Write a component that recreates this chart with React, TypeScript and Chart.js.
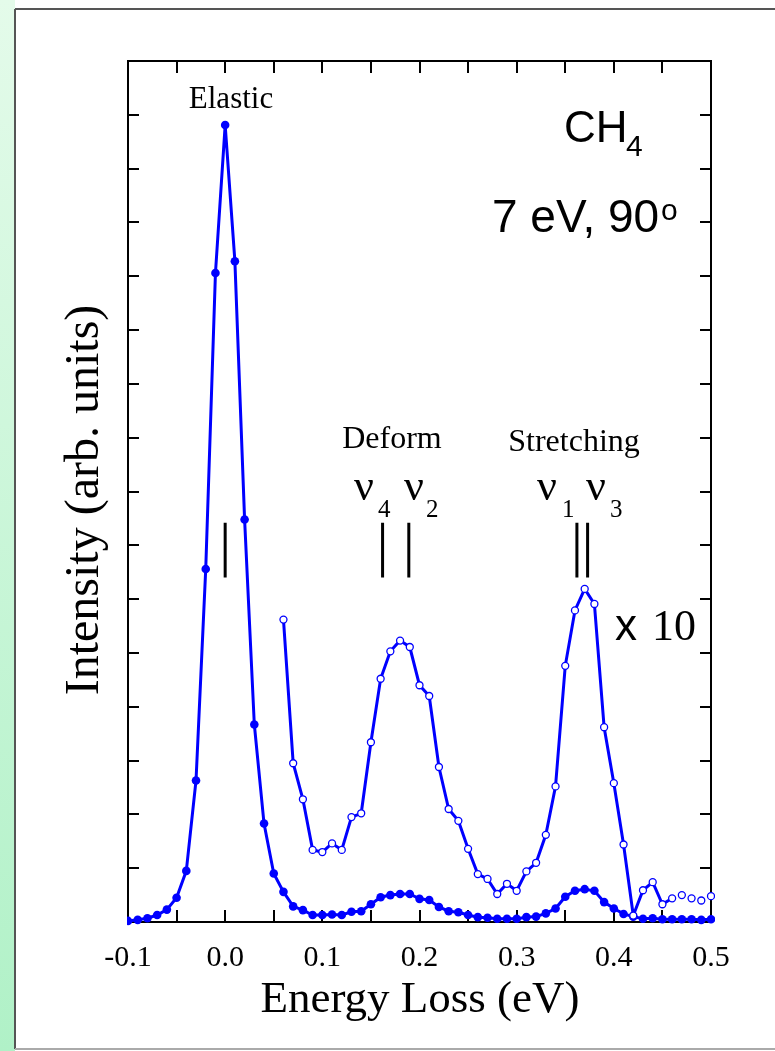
import React, { useEffect, useRef } from "react";
import { Chart, registerables } from "chart.js";

Chart.register(...registerables);

// Energy loss (eV) for the full-scale (filled) spectrum
const energyFull = [
  -0.10, -0.09, -0.08, -0.07, -0.06, -0.05, -0.04, -0.03, -0.02, -0.01,
  0.00, 0.01, 0.02, 0.03, 0.04, 0.05, 0.06, 0.07, 0.08, 0.09,
  0.10, 0.11, 0.12, 0.13, 0.14, 0.15, 0.16, 0.17, 0.18, 0.19,
  0.20, 0.21, 0.22, 0.23, 0.24, 0.25, 0.26, 0.27, 0.28, 0.29,
  0.30, 0.31, 0.32, 0.33, 0.34, 0.35, 0.36, 0.37, 0.38, 0.39,
  0.40, 0.41, 0.42, 0.43, 0.44, 0.45, 0.46, 0.47, 0.48, 0.49, 0.50,
];
const intensityFull = [
  0.02, 0.04, 0.07, 0.13, 0.23, 0.45, 0.95, 2.63, 6.56, 12.06,
  14.81, 12.28, 7.48, 3.67, 1.83, 0.90, 0.56, 0.29, 0.22, 0.13,
  0.13, 0.14, 0.13, 0.19, 0.20, 0.33, 0.46, 0.50, 0.52, 0.52,
  0.43, 0.41, 0.28, 0.20, 0.18, 0.13, 0.09, 0.08, 0.06, 0.06,
  0.06, 0.09, 0.10, 0.16, 0.25, 0.47, 0.58, 0.61, 0.58, 0.37,
  0.25, 0.15, 0.10, 0.06, 0.07, 0.05, 0.05, 0.05, 0.05, 0.04, 0.05,
];

// Energy loss (eV) for the x10 magnified (open) spectrum
const energyX10 = [
  0.06, 0.07, 0.08, 0.09, 0.10, 0.11, 0.12, 0.13, 0.14, 0.15,
  0.16, 0.17, 0.18, 0.19, 0.20, 0.21, 0.22, 0.23, 0.24, 0.25,
  0.26, 0.27, 0.28, 0.29, 0.30, 0.31, 0.32, 0.33, 0.34, 0.35,
  0.36, 0.37, 0.38, 0.39, 0.40, 0.41, 0.42, 0.43, 0.44, 0.45,
  0.46, 0.47, 0.48, 0.49, 0.50,
];
const intensityX10 = [
  5.62, 2.95, 2.28, 1.34, 1.30, 1.46, 1.34, 1.95, 2.02, 3.34,
  4.52, 5.03, 5.23, 5.11, 4.40, 4.20, 2.88, 2.10, 1.88, 1.36,
  0.89, 0.80, 0.52, 0.71, 0.58, 0.94, 1.10, 1.62, 2.52, 4.76,
  5.79, 6.19, 5.91, 3.62, 2.58, 1.44, 0.12, 0.59, 0.74, 0.33,
  0.44, 0.50, 0.44, 0.40, 0.48,
];
const lineEndX10 = 0.46;

// Vibrational mode markers (eV) and their vertical extent (arb. units)
const markerEnergies = [0.0, 0.162, 0.189, 0.362, 0.373];
const markerLow = 6.4;
const markerHigh = 7.42;

// Axis ranges / ticks
const xMin = -0.1;
const xMax = 0.5;
const xStep = 0.05;
const yMin = 0;
const yMax = 16;
const yStep = 1;

const BLUE = "#0000ff";
const SERIF = "'Liberation Serif', 'Times New Roman', serif";
const SANS = "'Liberation Sans', Arial, sans-serif";

const decorPlugin = {
  id: "decor",
  beforeDraw(chart: any) {
    const ctx = chart.ctx;
    const W = chart.width;
    const H = chart.height;
    ctx.save();
    ctx.fillStyle = "#ffffff";
    ctx.fillRect(0, 0, W, H);
    const g = ctx.createLinearGradient(0, 0, 0, H);
    g.addColorStop(0, "#e4fbea");
    g.addColorStop(1, "#b0f1c7");
    ctx.fillStyle = g;
    ctx.fillRect(0, 0, 15, H);
    ctx.strokeStyle = "#555555";
    ctx.lineWidth = 2;
    ctx.beginPath();
    ctx.moveTo(15, 9);
    ctx.lineTo(W, 9);
    ctx.stroke();
    ctx.beginPath();
    ctx.moveTo(15, 9);
    ctx.lineTo(15, 1049);
    ctx.stroke();
    ctx.strokeStyle = "#aaaaaa";
    ctx.beginPath();
    ctx.moveTo(15, 1049);
    ctx.lineTo(W, 1049);
    ctx.stroke();
    ctx.restore();
  },
  beforeDatasetsDraw(chart: any) {
    const ctx = chart.ctx;
    const { left, right, top, bottom } = chart.chartArea;
    const xs = chart.scales.x;
    const ys = chart.scales.y;
    ctx.save();
    ctx.strokeStyle = "#000";
    ctx.lineWidth = 2;
    ctx.strokeRect(left, top, right - left, bottom - top);
    ctx.beginPath();
    xs.ticks.forEach((t: any) => {
      const px = Math.round(xs.getPixelForValue(t.value));
      ctx.moveTo(px, bottom);
      ctx.lineTo(px, bottom - 12);
      ctx.moveTo(px, top);
      ctx.lineTo(px, top + 12);
    });
    ys.ticks.forEach((t: any) => {
      const py = Math.round(ys.getPixelForValue(t.value));
      ctx.moveTo(left, py);
      ctx.lineTo(left + 11, py);
      ctx.moveTo(right, py);
      ctx.lineTo(right - 11, py);
    });
    ctx.stroke();
    ctx.restore();
  },
  afterDraw(chart: any) {
    const ctx = chart.ctx;
    ctx.save();
    ctx.fillStyle = "#000";
    ctx.textBaseline = "alphabetic";

    const text = (s: string, x: number, y: number, font: string, align: CanvasTextAlign = "left") => {
      ctx.font = font;
      ctx.textAlign = align;
      ctx.fillText(s, x, y);
    };

    text("Elastic", 231, 108, `31px ${SERIF}`, "center");
    text("Deform", 392, 448, `32px ${SERIF}`, "center");
    text("Stretching", 574, 451, `32px ${SERIF}`, "center");

    const nu = `44px ${SERIF}`;
    const sub = `25px ${SERIF}`;
    text("\u03BD", 354, 500, nu);
    text("4", 378, 517, sub);
    text("\u03BD", 404, 500, nu);
    text("2", 426, 517, sub);
    text("\u03BD", 537, 500, nu);
    text("1", 562, 517, sub);
    text("\u03BD", 586, 500, nu);
    text("3", 610, 517, sub);

    text("CH", 564, 142, `44px ${SANS}`);
    text("4", 626, 156, `30px ${SANS}`);
    text("7 eV, 90", 492, 232, `46px ${SANS}`);
    text("o", 661, 220, `30px ${SANS}`);

    text("x", 615, 640, `44px ${SANS}`);
    text("10", 652, 640, `44px ${SERIF}`);

    text("Energy Loss (eV)", 420, 1012, `45px ${SERIF}`, "center");

    ctx.translate(98, 500);
    ctx.rotate(-Math.PI / 2);
    text("Intensity (arb. units)", 0, 0, `48px ${SERIF}`, "center");
    ctx.restore();
  },
};

export default function App() {
  const canvasRef = useRef<HTMLCanvasElement | null>(null);

  useEffect(() => {
    const canvas = canvasRef.current;
    if (!canvas) return;

    const fullData = energyFull.map((x, i) => ({ x, y: intensityFull[i] }));
    const x10Data = energyX10.map((x, i) => ({ x, y: intensityX10[i] }));
    const markerData: any[] = [];
    markerEnergies.forEach((e) => {
      markerData.push({ x: e, y: markerLow });
      markerData.push({ x: e, y: markerHigh });
      markerData.push({ x: e, y: null });
    });

    const chart = new Chart(canvas, {
      type: "line",
      data: {
        datasets: [
          {
            label: "x10",
            data: x10Data,
            order: 0,
            borderColor: BLUE,
            borderWidth: 3,
            pointRadius: 3.5,
            pointBorderWidth: 1.3,
            pointBackgroundColor: "#ffffff",
            pointBorderColor: BLUE,
            tension: 0,
            clip: { left: 1, right: 4, top: 10, bottom: 10 } as any,
            segment: {
              borderColor: (c: any) => (c.p0.parsed.x >= lineEndX10 - 1e-6 ? "rgba(0,0,0,0)" : BLUE),
            },
          },
          {
            label: "full",
            data: fullData,
            order: 1,
            borderColor: BLUE,
            borderWidth: 3,
            pointRadius: 4.3,
            pointBorderWidth: 0,
            pointBackgroundColor: BLUE,
            pointBorderColor: BLUE,
            tension: 0,
            clip: { left: 1, right: 4, top: 10, bottom: 10 } as any,
          },
          {
            label: "markers",
            data: markerData,
            order: 2,
            borderColor: "#000",
            borderWidth: 3,
            pointRadius: 0,
            spanGaps: false,
            borderCapStyle: "butt",
          },
        ],
      },
      options: {
        animation: false,
        responsive: false,
        devicePixelRatio: 1,
        events: [],
        layout: { padding: { left: 0, top: 61, right: 64, bottom: 0 } },
        plugins: {
          legend: { display: false },
          tooltip: { enabled: false },
          title: { display: false },
        },
        scales: {
          x: {
            type: "linear",
            position: "bottom",
            min: xMin,
            max: xMax,
            grid: { display: false },
            border: { display: false },
            ticks: {
              stepSize: xStep,
              autoSkip: false,
              maxRotation: 0,
              padding: 10,
              color: "#000",
              font: { family: SERIF, size: 30 },
              callback: (v: any) => {
                const n = Math.round(Number(v) * 100);
                if (n % 10 !== 0) return "";
                return (Math.round(Number(v) * 10) / 10).toFixed(1);
              },
            },
            afterFit: (s: any) => {
              s.height = 1051 - 922;
            },
          },
          y: {
            type: "linear",
            position: "left",
            min: yMin,
            max: yMax,
            grid: { display: false },
            border: { display: false },
            ticks: { stepSize: yStep, display: false },
            afterFit: (s: any) => {
              s.width = 128;
            },
          },
        },
      },
      plugins: [decorPlugin],
    } as any);

    return () => chart.destroy();
  }, []);

  return (
    <div style={{ position: "fixed", left: 0, top: 0, width: 775, height: 1051, background: "#fff" }}>
      <canvas ref={canvasRef} width={775} height={1051} style={{ display: "block", width: 775, height: 1051 }} />
    </div>
  );
}
